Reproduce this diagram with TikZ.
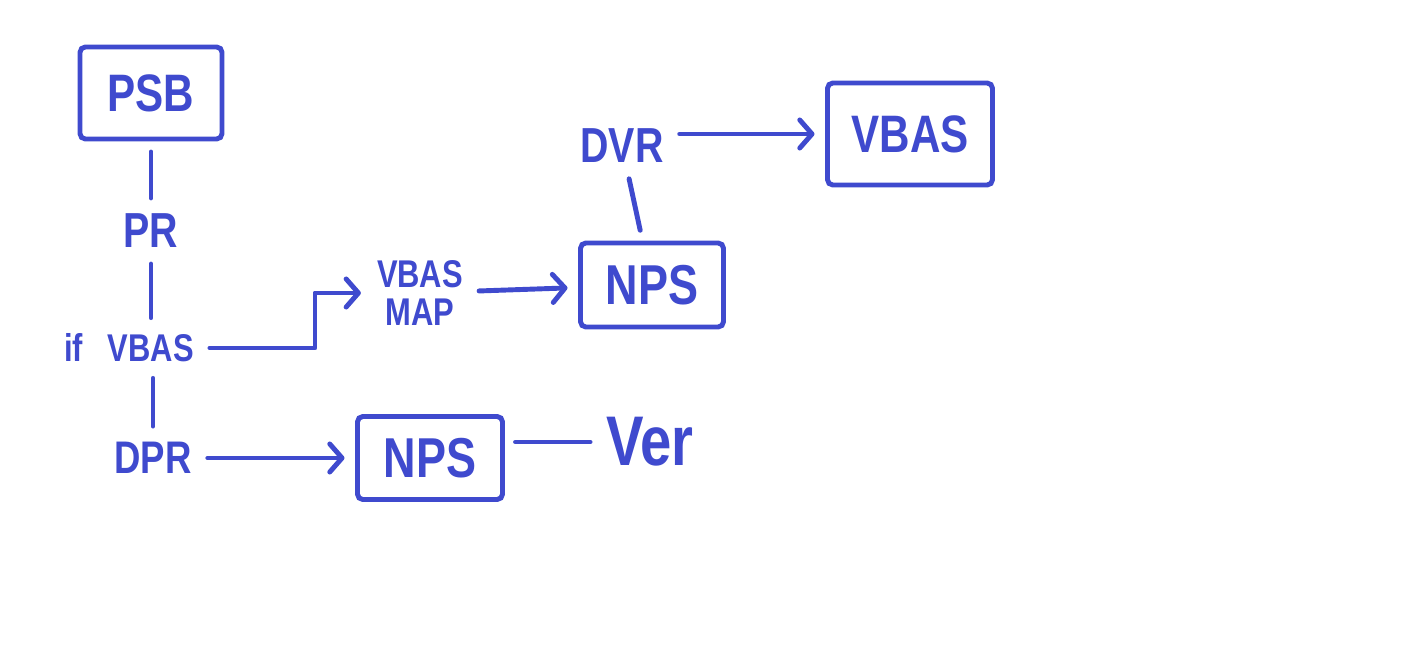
\documentclass[tikz,border=0pt]{standalone}
\usepackage{fontspec}
\usepackage{tikz}
\usetikzlibrary{arrows.meta}
\newfontfamily\hand[FakeStretch=0.8]{Liberation Sans}
\newcommand\penfont[1]{\hand\bfseries\fontsize{#1}{#1}\selectfont}
\definecolor{pen}{RGB}{63,74,206}
\tikzset{>={Straight Barb[length=7pt, width=16pt, round]}}
\tikzset{
	word/.style={text=pen, inner sep=3pt, font=\penfont{28}},
	nodebox/.style={draw=pen, line width=2.8pt, rounded corners=3pt, text=pen, inner sep=0pt},
	link/.style={draw=pen, line width=2.8pt, line cap=round, line join=round, shorten <=6pt, shorten >=6pt},
	flow/.style={link, ->}
}

\begin{document}
\begin{tikzpicture}[x=0.02cm, y=-0.02cm]
	\fill[white](0, 0) rectangle (1416, 672);
	\useasboundingbox (0, 0) rectangle (1416, 672);
	% left column
	\node[nodebox, minimum width=2.84cm, minimum height=1.84cm, font=\penfont{30}] (psb) at (151, 93) {PSB};
	\node[word] (pr) at (151, 231) {PR};
	\node[word, font=\penfont{22}] (ifv) at (129, 348) {if\hspace{14pt}VBAS};
	\node[word, font=\penfont{26}] (dpr) at (153, 458) {DPR};
	% lower row
	\node[nodebox, minimum width=2.9cm, minimum height=1.66cm, font=\penfont{32}] (npsb) at (430, 458) {NPS};
	\node[word, font=\penfont{40}] (ver) at (650, 442) {Ver};
	% upper row
	\node[word, font=\penfont{22}, align=center] (map) at (420, 293) {VBAS\\MAP};
	\node[nodebox, minimum width=2.86cm, minimum height=1.68cm, font=\penfont{32}] (npsa) at (652, 285) {NPS};
	\node[word] (dvr) at (622, 146) {DVR};
	\node[nodebox, minimum width=3.3cm, minimum height=2.04cm, font=\penfont{30}] (vbas) at (910, 134) {VBAS};
	\coordinate (bend) at (315, 348);
	% connectors
	\draw[link](psb) -- (psb |- pr.north);
	\draw[link](pr.south) -- (pr.south |- ifv.north);
	\draw[link](dpr.north |- ifv.south) -- (dpr.north);
	\draw[flow](dpr) -- (npsb);
	\draw[link](npsb.east |- ver) -- (ver);
	\draw[flow, shorten >=0pt](ifv.east) -- (bend) |- ([xshift=-6pt]map.west);
	\draw[flow](map) -- (npsa);
	\draw[link](npsa) -- (dvr);
	\draw[flow](dvr.east |- vbas) -- (vbas);
\end{tikzpicture}
\end{document}
